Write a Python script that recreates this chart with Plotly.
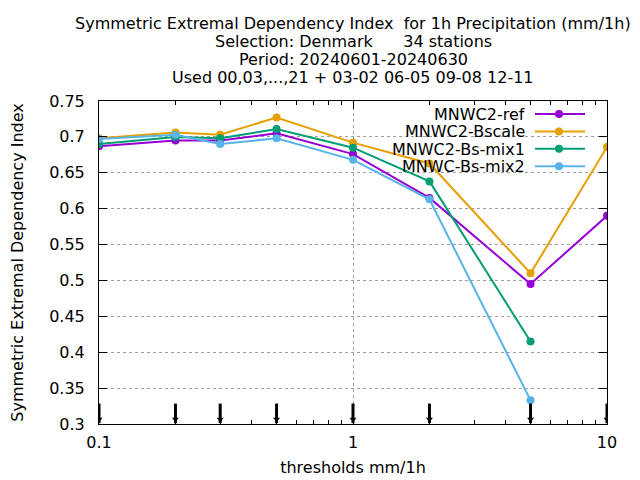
import plotly.graph_objects as go

thresholds = [0.1, 0.2, 0.3, 0.5, 1, 2, 5, 10]
ref = [0.687, 0.695, 0.695, 0.705, 0.676, 0.615, 0.495, 0.590]
bscale = [0.698, 0.706, 0.703, 0.727, 0.692, 0.663, 0.510, 0.686]
mix1 = [0.690, 0.700, 0.698, 0.711, 0.685, 0.638, 0.415]
mix2 = [0.697, 0.703, 0.690, 0.698, 0.668, 0.613, 0.333]

names = ["MNWC2-ref", "MNWC2-Bscale", "MNWC2-Bs-mix1", "MNWC-Bs-mix2"]
colors = ["#9400d3", "#e69f00", "#009e73", "#56b4e9"]
series = [ref, bscale, mix1, mix2]

title_lines = [
    "Symmetric Extremal Dependency Index  for 1h Precipitation (mm/1h)",
    "Selection: Denmark      34 stations",
    "Period: 20240601-20240630",
    "Used 00,03,...,21 + 03-02 06-05 09-08 12-11",
]

FONT = "DejaVu Sans"
OFF = 8  # page body margin
W, H = 640 - OFF, 480 - OFF
ML, MT = 99 - OFF, 101 - OFF
PW, PH = 508, 323
MR, MB = W - ML - PW, H - MT - PH


def px_x(px):
    return (px - OFF - ML) / PW


def px_y(py):
    return (MT + PH - (py - OFF)) / PH


fig = go.Figure()
for name, col, vals in zip(names, colors, series):
    fig.add_trace(go.Scatter(
        x=thresholds[:len(vals)], y=vals, name=name, mode="lines+markers",
        line=dict(color=col, width=2),
        marker=dict(symbol="circle", size=8, color=col),
        showlegend=False,
    ))

# threshold arrows at the bottom
arrow_y = 0.3148
head_y = 0.3065
fig.add_trace(go.Scatter(
    x=thresholds, y=[arrow_y] * len(thresholds), mode="markers", showlegend=False,
    hoverinfo="skip",
    marker=dict(symbol="line-ns", size=14, line=dict(color="black", width=3)),
))
fig.add_trace(go.Scatter(
    x=thresholds, y=[head_y] * len(thresholds), mode="markers", showlegend=False,
    hoverinfo="skip",
    marker=dict(symbol="triangle-down", size=6, color="black"),
))

# title lines (gnuplot style, tight spacing)
for i, line in enumerate(title_lines):
    fig.add_annotation(text=line, xref="paper", yref="paper",
                       x=px_x(353), y=px_y(24 + 17.7 * i), xanchor="center", yanchor="middle",
                       showarrow=False, font=dict(size=16, family=FONT))

# key (text left of sample, gnuplot style)
for i, (name, col) in enumerate(zip(names, colors)):
    cy = 114 + 17.4 * i
    yy = px_y(cy)
    fig.add_annotation(text=name, xref="paper", yref="paper", x=px_x(526), y=yy,
                       xanchor="right", yanchor="middle", showarrow=False,
                       height=14, valign="middle", borderpad=0,
                       font=dict(size=16, family=FONT))
    fig.add_shape(type="line", xref="paper", yref="paper", x0=px_x(535), x1=px_x(585),
                  y0=yy, y1=yy, line=dict(color=col, width=2))
    r = 4
    fig.add_shape(type="circle", xref="paper", yref="paper",
                  x0=px_x(559 - r), x1=px_x(559 + r), y0=px_y(cy + r),
                  y1=px_y(cy - r), fillcolor=col, line=dict(color=col, width=0))

fig.update_layout(
    width=W, height=H,
    paper_bgcolor="white", plot_bgcolor="white",
    margin=dict(l=ML, r=MR, t=MT, b=MB, autoexpand=False),
    font=dict(family=FONT, size=16, color="black"),
    showlegend=False,
    xaxis=dict(
        type="log", range=[-1, 1], tickvals=[0.1, 1, 10], ticktext=["0.1", "1", "10"],
        ticks="inside", ticklen=8, tickcolor="black", tickwidth=1,
        showline=True, linecolor="black", linewidth=1, mirror="ticks",
        showgrid=True, gridcolor="#a0a0a0", griddash="dot", gridwidth=1,
        zeroline=False, automargin=False,
        minor=dict(ticks="inside", ticklen=4, tickcolor="black", showgrid=False,
                   tickvals=[0.2, 0.3, 0.4, 0.5, 0.6, 0.7, 0.8, 0.9, 2, 3, 4, 5, 6, 7, 8, 9]),
        title=dict(text="thresholds mm/1h", standoff=10, font=dict(size=16)),
        ticklabelstandoff=4, tickfont=dict(size=16),
    ),
    yaxis=dict(
        range=[0.3, 0.75], tick0=0.3, dtick=0.05,
        ticks="inside", ticklen=8, tickcolor="black", tickwidth=1,
        showline=True, linecolor="black", linewidth=1, mirror="ticks",
        showgrid=True, gridcolor="#a0a0a0", griddash="dot", gridwidth=1,
        zeroline=False, automargin=False,
        title=dict(text="Symmetric Extremal Dependency Index", standoff=26, font=dict(size=16)),
        ticklabelstandoff=10, tickfont=dict(size=16),
    ),
)

fig.write_html("out.html")
